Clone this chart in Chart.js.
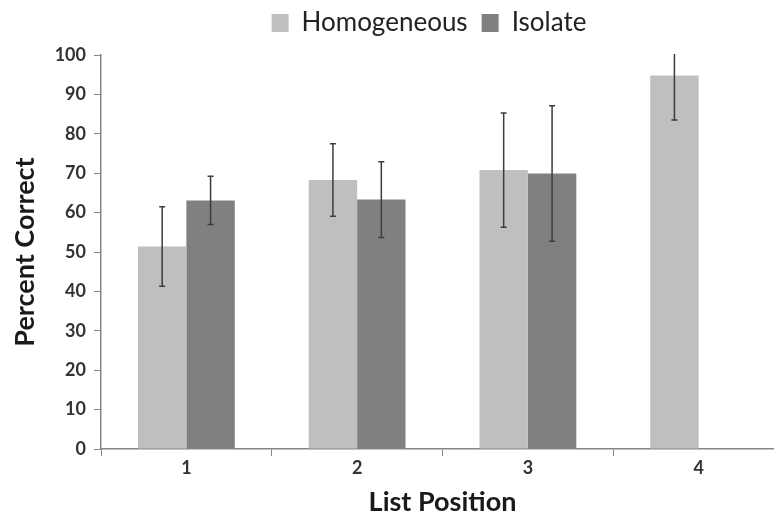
<!DOCTYPE html>
<html>
<head>
<meta charset="utf-8">
<script src="https://cdn.jsdelivr.net/npm/chart.js@4/dist/chart.umd.min.js"></script>
<style>
  html, body { margin: 0; padding: 0; background: #fff; overflow: hidden; }
  #wrap { width: 774px; height: 525px; overflow: hidden; }
</style>
</head>
<body>
<div id="wrap"><canvas id="grafico" width="860" height="525"></canvas></div>
<script>
// Datos
const categorias = ["1", "2", "3", "4"];
const homogeneous = [51.4, 68.3, 70.8, 94.8];
const homogeneousErr = [10.1, 9.2, 14.5, 11.3];
const isolate = [63.1, 63.3, 69.9, null];
const isolateErr = [6.1, 9.6, 17.2, null];
const ticksY = ["0", "10", "20", "30", "40", "50", "60", "70", "80", "90", "100"];

const gris = "#868686";

// Plugin para dibujar las barras de error con la escala del grafico
const barrasError = {
  id: "barrasError",
  afterDatasetsDraw(chart) {
    const { ctx, chartArea, scales } = chart;
    ctx.save();
    ctx.beginPath();
    ctx.rect(chartArea.left, chartArea.top - 1, chartArea.right - chartArea.left, chartArea.bottom - chartArea.top + 1);
    ctx.clip();
    ctx.strokeStyle = "#3c3c3c";
    ctx.lineWidth = 1.5;
    chart.data.datasets.forEach((ds, i) => {
      const meta = chart.getDatasetMeta(i);
      meta.data.forEach((bar, j) => {
        const v = ds.data[j];
        const e = ds.errores[j];
        if (v == null || e == null) return;
        const yHi = scales.y.getPixelForValue(v + e);
        const yLo = scales.y.getPixelForValue(v - e);
        ctx.beginPath();
        ctx.moveTo(bar.x, yHi);
        ctx.lineTo(bar.x, yLo);
        ctx.moveTo(bar.x - 3, yHi);
        ctx.lineTo(bar.x + 3, yHi);
        ctx.moveTo(bar.x - 3, yLo);
        ctx.lineTo(bar.x + 3, yLo);
        ctx.stroke();
      });
    });
    ctx.restore();
  }
};

// Espacio extra debajo de la leyenda y leyenda un poco a la derecha
const ajusteLeyenda = {
  id: "ajusteLeyenda",
  beforeInit(chart) {
    const fitOriginal = chart.legend.fit;
    chart.legend.fit = function () {
      fitOriginal.bind(chart.legend)();
      this.height += 9;
    };
  },
  afterLayout(chart) {
    chart.legend.left += 37;
    chart.legend.right += 37;
  }
};

const ctx = document.getElementById("grafico");

new Chart(ctx, {
  type: "bar",
  data: {
    labels: categorias,
    datasets: [
      {
        label: "Homogeneous",
        data: homogeneous,
        errores: homogeneousErr,
        backgroundColor: "#bfbfbf",
        categoryPercentage: 0.567,
        barPercentage: 1.0
      },
      {
        label: "Isolate",
        data: isolate,
        errores: isolateErr,
        backgroundColor: "#808080",
        categoryPercentage: 0.567,
        barPercentage: 1.0
      }
    ]
  },
  options: {
    responsive: false,
    animation: false,
    layout: { padding: { left: 0, right: 76, top: -4, bottom: 0 } },
    plugins: {
      legend: {
        position: "top",
        labels: {
          boxWidth: 17,
          boxHeight: 18,
          padding: 14,
          color: "#222",
          font: { family: "Lato", size: 26 }
        }
      },
      tooltip: { enabled: false }
    },
    scales: {
      x: {
        grid: { drawOnChartArea: false, tickLength: 7, color: gris, offset: true },
        border: { color: gris, width: 1.5 },
        ticks: { padding: 1, color: "#333", font: { family: "Lato", size: 18, weight: "bold" } },
        title: {
          display: true,
          text: "List Position",
          color: "#1a1a1a",
          padding: { top: 0, bottom: 7 },
          font: { family: "Lato", size: 27, weight: "bold" }
        },
        afterFit(scale) { scale.height = 76; }
      },
      y: {
        min: 0,
        max: 100,
        grid: { drawOnChartArea: false, tickLength: 7, color: gris },
        border: { color: gris, width: 1.5 },
        ticks: {
          stepSize: 10,
          padding: 8,
          color: "#333",
          font: { family: "Lato", size: 18, weight: "bold" },
          callback: (v, i) => ticksY[i]
        },
        title: {
          display: true,
          text: "Percent Correct",
          color: "#1a1a1a",
          padding: { top: 9, bottom: 0 },
          font: { family: "Lato", size: 27, weight: "bold" }
        },
        afterFit(scale) { scale.width = 101; }
      }
    }
  },
  plugins: [barrasError, ajusteLeyenda]
});
</script>
</body>
</html>
